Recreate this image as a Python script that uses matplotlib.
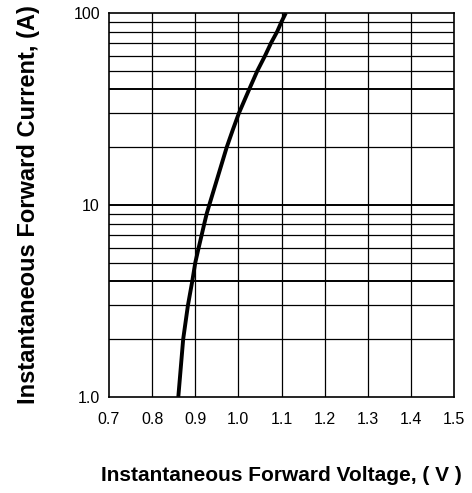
import matplotlib
matplotlib.use("Agg")
import matplotlib.pyplot as plt

plt.rcParams['font.family'] = ['Liberation Sans', 'DejaVu Sans']

# curve (voltage V, current A)
vf = [0.8607, 0.872, 0.883, 0.893, 0.900, 0.908, 0.915, 0.921, 0.9265, 0.9325,
      0.973, 0.987, 1.001, 1.025, 1.044, 1.062, 1.076, 1.090, 1.100, 1.110]
i_f = [1.0, 2, 3, 4, 5, 6, 7, 8, 9, 10,
       20, 24.6, 30, 40, 50, 60, 70, 80, 90, 100]

x_ticks = [0.7, 0.8, 0.9, 1.0, 1.1, 1.2, 1.3, 1.4, 1.5]
x_labels = ['0.7', '0.8', '0.9', '1.0', '1.1', '1.2', '1.3', '1.4', '1.5']
y_ticks = [1, 10, 100]
y_labels = ['1.0', '10', '100']
grid_y = [2, 3, 4, 5, 6, 7, 8, 9, 10, 20, 30, 40, 50, 60, 70, 80, 90]
heavy_y = [4, 10, 40]

fig = plt.figure(figsize=(4.72, 4.93), dpi=100)
ax = fig.add_axes([109/472, 96/493, 345/472, 384/493])

ax.set_yscale('log')
ax.set_xlim(0.7, 1.5)
ax.set_ylim(1, 100)

for x in x_ticks[1:-1]:
    ax.axvline(x, color='black', lw=0.9, zorder=1)
for y in grid_y:
    ax.axhline(y, color='black', lw=1.4 if y in heavy_y else 0.9, zorder=1)

ax.plot(vf, i_f, color='black', lw=2.8, solid_capstyle='butt',
        solid_joinstyle='round', zorder=3)

ax.set_xticks(x_ticks)
ax.set_xticklabels(x_labels)
ax.set_yticks(y_ticks)
ax.set_yticklabels(y_labels)
ax.minorticks_off()
ax.tick_params(length=0, labelsize=11.5)
ax.tick_params(axis='x', pad=11)
ax.tick_params(axis='y', pad=6.5)

for s in ax.spines.values():
    s.set_linewidth(1.2)

ax.set_xlabel('Instantaneous Forward Voltage, ( V )', fontsize=15,
              fontweight='bold', labelpad=28)
ax.set_ylabel('Instantaneous Forward Current, (A)', fontsize=17,
              fontweight='bold', labelpad=24)

fig.savefig('out.png', dpi=100)
